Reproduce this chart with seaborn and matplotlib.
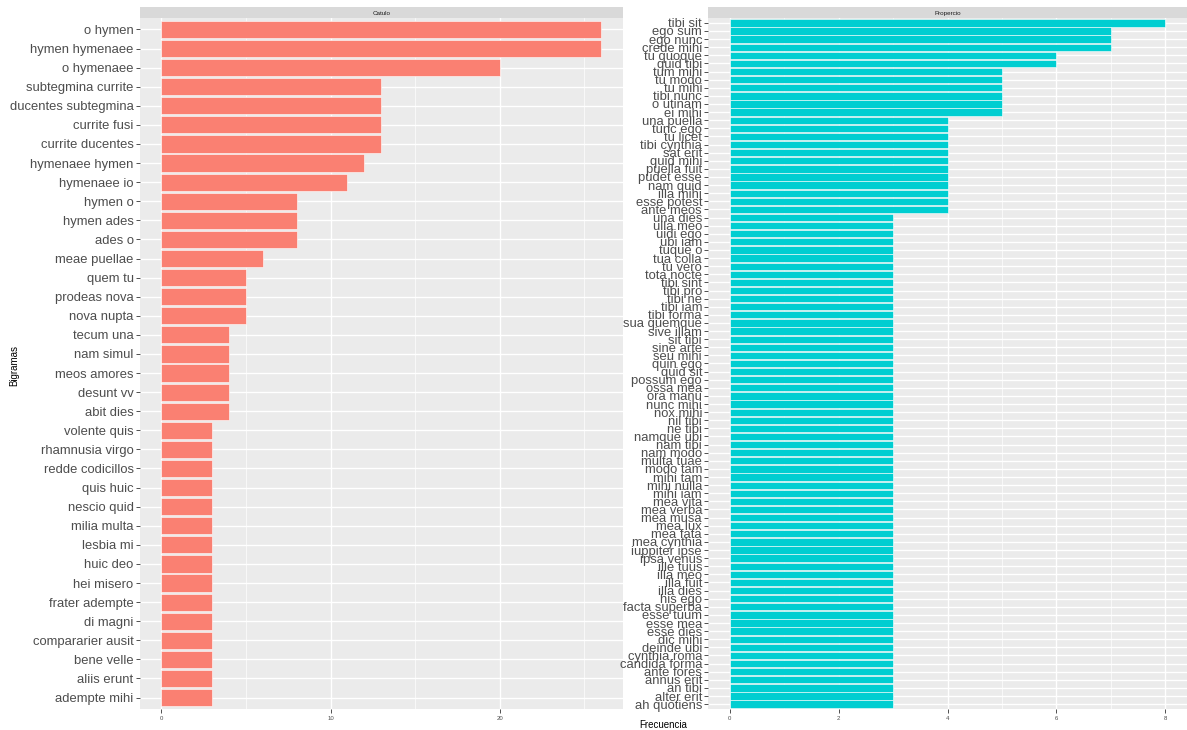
import numpy as np
import pandas as pd
import matplotlib.pyplot as plt
import seaborn as sns
from matplotlib.ticker import MultipleLocator

# ──────────────────────────────────────────────
# Data: bigram frequencies per author
# ──────────────────────────────────────────────
catulo_bigramas = [
    "o hymen", "hymen hymenaee", "o hymenaee", "subtegmina currite",
    "ducentes subtegmina", "currite fusi", "currite ducentes", "hymenaee hymen",
    "hymenaee io", "hymen o", "hymen ades", "ades o", "meae puellae", "quem tu",
    "prodeas nova", "nova nupta", "tecum una", "nam simul", "meos amores",
    "desunt vv", "abit dies", "volente quis", "rhamnusia virgo",
    "redde codicillos", "quis huic", "nescio quid", "milia multa", "lesbia mi",
    "huic deo", "hei misero", "frater adempte", "di magni", "compararier ausit",
    "bene velle", "aliis erunt", "adempte mihi",
]
catulo_freq = [
    26, 26, 20, 13, 13, 13, 13, 12, 11, 8, 8, 8, 6, 5, 5, 5, 4, 4, 4, 4, 4,
    3, 3, 3, 3, 3, 3, 3, 3, 3, 3, 3, 3, 3, 3, 3,
]

propercio_bigramas = [
    "tibi sit", "ego sum", "ego nunc", "crede mihi", "tu quoque", "quid tibi",
    "tum mihi", "tu modo", "tu mihi", "tibi nunc", "o utinam", "ei mihi",
    "una puella", "tunc ego", "tu licet", "tibi cynthia", "sat erit",
    "quid mihi", "puella fuit", "pudet esse", "nam quid", "illa mihi",
    "esse potest", "ante meos", "una dies", "ulla meo", "uidi ego", "ubi iam",
    "tuque o", "tua colla", "tu vero", "tota nocte", "tibi sint", "tibi pro",
    "tibi ne", "tibi iam", "tibi forma", "sua quemque", "sive illam",
    "sit tibi", "sine arte", "seu mihi", "quin ego", "quid sit", "possum ego",
    "ossa mea", "ora manu", "nunc mihi", "nox mihi", "nil tibi", "ne tibi",
    "namque ubi", "nam tibi", "nam modo", "multa tuae", "modo tam", "mihi tam",
    "mihi nulla", "mihi iam", "mea vita", "mea verba", "mea musa", "mea lux",
    "mea fata", "mea cynthia", "iuppiter ipse", "ipsa venus", "ille tuus",
    "illa meo", "illa fuit", "illa dies", "his ego", "facta superba",
    "esse tuum", "esse mea", "esse dies", "dic mihi", "deinde ubi",
    "cynthia roma", "candida forma", "ante fores", "annus erit", "an tibi",
    "alter erit", "ah quotiens",
]
propercio_freq = [
    8, 7, 7, 7, 6, 6, 5, 5, 5, 5, 5, 5,
    4, 4, 4, 4, 4, 4, 4, 4, 4, 4, 4, 4,
] + [3] * 61

panels = [
    ("Catulo", catulo_bigramas, catulo_freq, "salmon", 10, 5),
    ("Propercio", propercio_bigramas, propercio_freq, "darkturquoise", 2, 1),
]

# ──────────────────────────────────────────────
# Figure layout (ggplot-like facets, free scales)
# ──────────────────────────────────────────────
W, H = 1187, 730
fig = plt.figure(figsize=(W / 100, H / 100), dpi=100)
plt.rcParams["font.family"] = ["Liberation Sans", "DejaVu Sans"]

boxes = [(139.5, 623), (708, 1187)]
top_px, bottom_px, strip_top = 18, 709, 7

for (name, labels, freq, color, major, minor), (x0, x1) in zip(panels, boxes):
    ax = fig.add_axes([x0 / W, (H - bottom_px) / H, (x1 - x0) / W,
                       (bottom_px - top_px) / H])
    ax.set_facecolor("#EBEBEB")
    df = pd.DataFrame({"bigrama": labels, "freq": freq})
    sns.barplot(data=df, x="freq", y="bigrama", order=labels, orient="h",
                color=color, saturation=1, width=0.9, edgecolor="white",
                linewidth=0.4, ax=ax, zorder=3)

    n = len(labels)
    xmax = max(freq)
    ax.set_xlim(-0.05 * xmax, xmax * 1.05)
    ax.set_ylim(n - 0.4, -0.6)

    ax.xaxis.set_major_locator(MultipleLocator(major))
    ax.xaxis.set_minor_locator(MultipleLocator(minor))
    ax.grid(which="major", axis="both", color="white", linewidth=1.0, zorder=0)
    ax.grid(which="minor", axis="x", color="white", linewidth=0.5, zorder=0)
    ax.set_axisbelow(True)
    for s in ax.spines.values():
        s.set_visible(False)

    ax.tick_params(axis="y", which="major", length=2.8, width=0.6,
                   color="#333333", labelsize=9.4, labelcolor="#4D4D4D", pad=1.5)
    ax.tick_params(axis="x", which="major", length=2.8, width=0.6,
                   color="#333333", labelsize=4.3, labelcolor="#4D4D4D", pad=2)
    ax.tick_params(axis="x", which="minor", length=0)
    ax.set_xlabel("")
    ax.set_ylabel("")

    # facet strip
    sax = fig.add_axes([x0 / W, (H - top_px) / H, (x1 - x0) / W,
                        (top_px - strip_top) / H])
    sax.set_facecolor("#D9D9D9")
    sax.set_xticks([])
    sax.set_yticks([])
    for s in sax.spines.values():
        s.set_visible(False)
    sax.text(0.5, 0.45, name, ha="center", va="center", fontsize=4.5,
             color="#1A1A1A", transform=sax.transAxes)

fig.text(663 / W, 1 - 725 / H, "Frecuencia", ha="center", va="center",
         fontsize=7, color="black")
fig.text(14 / W, 1 - 365 / H, "Bigramas", ha="center", va="center",
         rotation=90, fontsize=7, color="black")

fig.savefig("out.png", dpi=100)
